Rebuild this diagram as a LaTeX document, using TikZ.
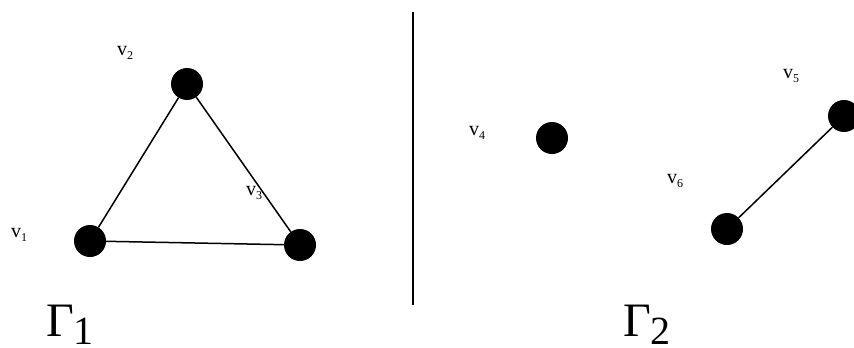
\documentclass[tikz,border=0pt]{standalone}
\usepackage{fontspec}
\setmainfont{Liberation Serif}
\begin{document}
\begin{tikzpicture}[x=1pt,y=-1pt,
  vdot/.style={circle,fill=black,minimum size=32pt,inner sep=0pt},
  edge/.style={line width=1.5pt},
  vlab/.style={anchor=base west,inner sep=0pt,font=\fontsize{20}{20}\selectfont},
  glab/.style={anchor=base west,inner sep=0pt,font=\fontsize{48}{48}\selectfont}]
\useasboundingbox (0,0) rectangle (854,348);
\clip (0,0) rectangle (854,348);
\node[vdot] (a1) at (90,241) {};
\node[vdot] (a2) at (187,84) {};
\node[vdot] (a3) at (300,245) {};
\node[vdot] (a4) at (552,138) {};
\node[vdot] (a5) at (844,116) {};
\node[vdot] (a6) at (727,229) {};
\draw[edge] (a1) -- (a2);
\draw[edge] (a2) -- (a3);
\draw[edge] (a1) -- (a3);
\draw[edge] (a6) -- (a5);
\coordinate (s1) at (413,12);
\coordinate (s2) at (413,305);
\draw[line width=1.7pt] (s1) -- (s2);
\newcommand{\vsub}[1]{\raisebox{-4pt}{\fontsize{12}{12}\selectfont #1}}
\node[vlab] (l1) at (11,237) {v\vsub{1}};
\node[vlab] (l2) at (117,55) {v\vsub{2}};
\node[vlab] (l3) at (246,195) {v\vsub{3}};
\node[vlab] (l4) at (469,135) {v\vsub{4}};
\node[vlab] (l5) at (783,78) {v\vsub{5}};
\node[vlab] (l6) at (667,183) {v\vsub{6}};
\newcommand{\gsub}[1]{\raisebox{-8pt}[\height][0pt]{\fontsize{40}{40}\selectfont #1}}
\node[glab] (g1) at (46,336) {Γ\gsub{1}};
\node[glab] (g2) at (623,336) {Γ\gsub{2}};
\end{tikzpicture}
\end{document}
